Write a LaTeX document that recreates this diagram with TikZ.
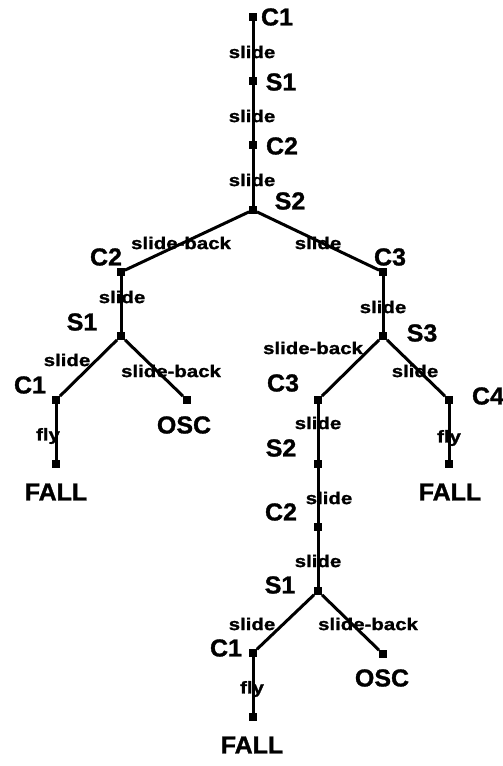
\documentclass[tikz,border=0pt]{standalone}
\usepackage{fontspec}
\setmainfont{Liberation Sans}[BoldFeatures={FakeBold=1.2}]
\usepackage{graphicx}
\newcommand\wsm[1]{\scalebox{1.2}[1]{#1}}
\newcommand\wbig[1]{\scalebox{1.02}[1]{#1}}
\tikzset{
  st/.style={rectangle, fill=black, inner sep=0pt, minimum size=7.5pt},
  big/.style={font=\fontsize{24.5}{24.5}\selectfont\bfseries, inner sep=0pt},
  sm/.style={font=\fontsize{17}{17}\selectfont\bfseries, inner sep=0pt},
  edge/.style={line width=3pt}
}
\begin{document}
\begin{tikzpicture}[x=1pt,y=-1pt]
\useasboundingbox (0,0) rectangle (503,766);
% state squares
\node[st] (n1) at (253,17) {};
\node[st] (n2) at (253,81) {};
\node[st] (n3) at (253,145) {};
\node[st] (n4) at (253,210) {};
\node[st] (a1) at (121,272) {};
\node[st] (a2) at (121,336) {};
\node[st] (a3) at (56,400) {};
\node[st] (a4) at (187,400) {};
\node[st] (a5) at (56,464) {};
\node[st] (b1) at (383,272) {};
\node[st] (b2) at (383,336) {};
\node[st] (b3) at (318,400) {};
\node[st] (b4) at (449,400) {};
\node[st] (b5) at (449,464) {};
\node[st] (c1) at (318,464) {};
\node[st] (c2) at (318,527) {};
\node[st] (c3) at (318,591) {};
\node[st] (c4) at (253,653) {};
\node[st] (c5) at (383,654) {};
\node[st] (c6) at (253,717) {};
% state labels
\node[big] (ln1) at (277,17) {\wbig{C1}};
\node[big] (ln2) at (281,82) {\wbig{S1}};
\node[big] (ln3) at (282,146) {\wbig{C2}};
\node[big] (ln4) at (290,201) {\wbig{S2}};
\node[big] (la1) at (106,257) {\wbig{C2}};
\node[big] (la2) at (82,322) {\wbig{S1}};
\node[big] (la3) at (30,385) {\wbig{C1}};
\node[big] (la4) at (184,425) {\wbig{OSC}};
\node[big] (la5) at (56,492) {\wbig{FALL}};
\node[big] (lb1) at (390,257) {\wbig{C3}};
\node[big] (lb2) at (422,333) {\wbig{S3}};
\node[big] (lb3) at (283,383) {\wbig{C3}};
\node[big] (lb4) at (488,396) {\wbig{C4}};
\node[big] (lb5) at (450,492) {\wbig{FALL}};
\node[big] (lc1) at (281,448) {\wbig{S2}};
\node[big] (lc2) at (281,512) {\wbig{C2}};
\node[big] (lc3) at (280,585) {\wbig{S1}};
\node[big] (lc4) at (226,648) {\wbig{C1}};
\node[big] (lc5) at (382,678) {\wbig{OSC}};
\node[big] (lc6) at (252,745) {\wbig{FALL}};
% edge labels
\node[sm] (e1) at (252,52) {\wsm{slide}};
\node[sm] (e2) at (252,116) {\wsm{slide}};
\node[sm] (e3) at (252,180) {\wsm{slide}};
\node[sm] (e4) at (181,243) {\wsm{slide-back}};
\node[sm] (e5) at (318,243) {\wsm{slide}};
\node[sm] (e6) at (122,297) {\wsm{slide}};
\node[sm] (e7) at (67,360) {\wsm{slide}};
\node[sm] (e8) at (171,371) {\wsm{slide-back}};
\node[sm] (e9) at (48,436) {\wsm{fly}};
\node[sm] (e10) at (383,307) {\wsm{slide}};
\node[sm] (e11) at (313,348) {\wsm{slide-back}};
\node[sm] (e12) at (415,371) {\wsm{slide}};
\node[sm] (e13) at (318,423) {\wsm{slide}};
\node[sm] (e14) at (449,438) {\wsm{fly}};
\node[sm] (e15) at (329,498) {\wsm{slide}};
\node[sm] (e16) at (318,561) {\wsm{slide}};
\node[sm] (e17) at (252,624) {\wsm{slide}};
\node[sm] (e18) at (368,624) {\wsm{slide-back}};
\node[sm] (e19) at (252,689) {\wsm{fly}};
% connectors
\draw[edge] (n1) -- (n2);
\draw[edge] (n2) -- (n3);
\draw[edge] (n3) -- (n4);
\draw[edge] (n4) -- (a1);
\draw[edge] (n4) -- (b1);
\draw[edge] (a1) -- (a2);
\draw[edge] (a2) -- (a3);
\draw[edge] (a2) -- (a4);
\draw[edge] (a3) -- (a5);
\draw[edge] (b1) -- (b2);
\draw[edge] (b2) -- (b3);
\draw[edge] (b2) -- (b4);
\draw[edge] (b4) -- (b5);
\draw[edge] (b3) -- (c1);
\draw[edge] (c1) -- (c2);
\draw[edge] (c2) -- (c3);
\draw[edge] (c3) -- (c4);
\draw[edge] (c3) -- (c5);
\draw[edge] (c4) -- (c6);
\end{tikzpicture}
\end{document}
